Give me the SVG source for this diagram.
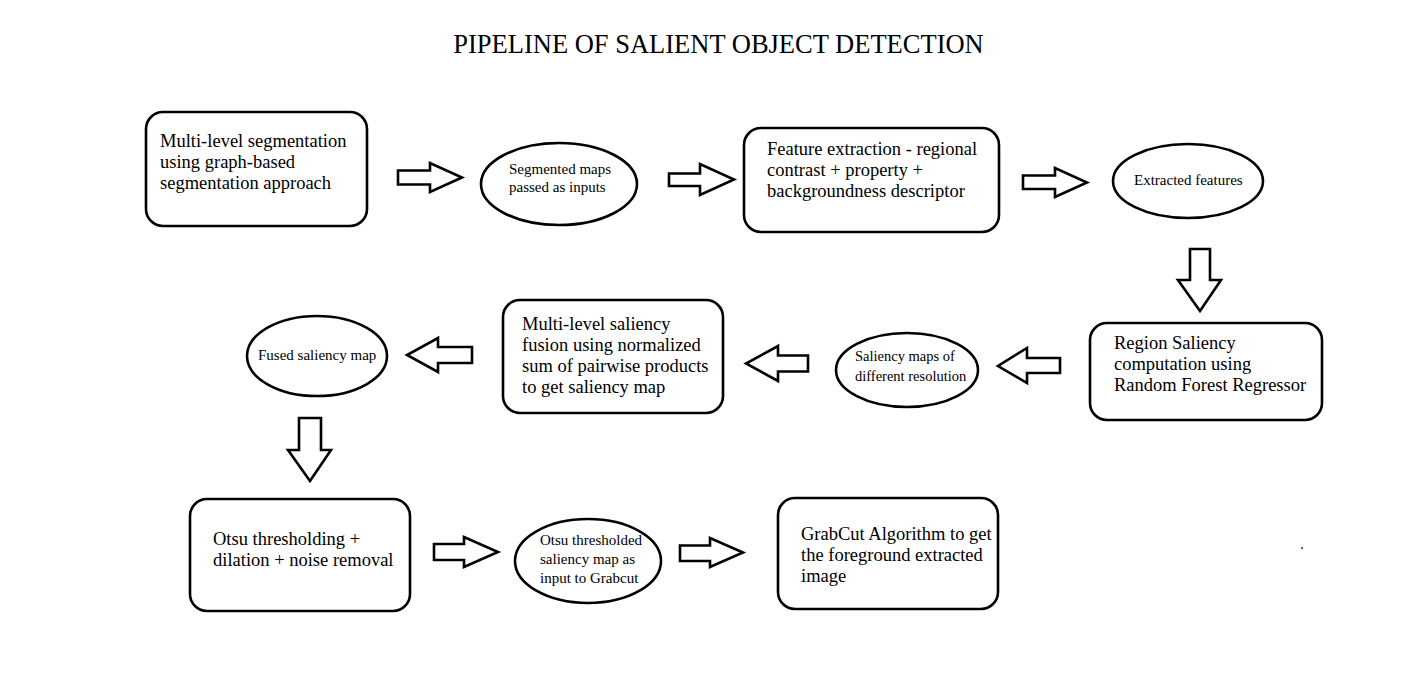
<svg xmlns="http://www.w3.org/2000/svg" width="1415" height="676" viewBox="0 0 1415 676">
<style>
  .box { fill: #fff; stroke: #000; stroke-width: 2.6; }
  .ell { fill: #fff; stroke: #000; stroke-width: 2.6; }
  .arr { fill: #fff; stroke: #000; stroke-width: 2.6; stroke-linejoin: miter; }
  .t { font-family: "Liberation Serif", "Times New Roman", serif; fill: #000; }
  .bt { font-size: 18.5px; }
  .et { font-size: 15px; }
  .title { font-size: 26.5px; }
</style>
<rect width="1415" height="676" fill="#fff"/>
<text class="t title" x="718.5" y="53" text-anchor="middle">PIPELINE OF SALIENT OBJECT DETECTION</text>

<g id="n1">
  <rect class="box" x="146" y="112" width="221" height="114" rx="17"/>
  <text class="t bt" x="160"><tspan x="160" y="147">Multi-level segmentation</tspan><tspan x="160" y="168">using graph-based</tspan><tspan x="160" y="189">segmentation approach</tspan></text>
</g>
<g id="n2">
  <ellipse class="ell" cx="559" cy="184" rx="78" ry="41"/>
  <text class="t et"><tspan x="509" y="174">Segmented maps</tspan><tspan x="509" y="192">passed as inputs</tspan></text>
</g>
<g id="n3">
  <rect class="box" x="744" y="128" width="255" height="104" rx="17"/>
  <text class="t bt"><tspan x="767" y="155">Feature extraction - regional</tspan><tspan x="767" y="176">contrast + property +</tspan><tspan x="767" y="197">backgroundness descriptor</tspan></text>
</g>
<g id="n4">
  <ellipse class="ell" cx="1188" cy="181" rx="75" ry="37"/>
  <text class="t et" x="1134" y="185">Extracted features</text>
</g>
<g id="n5">
  <rect class="box" x="1090" y="323" width="232" height="97" rx="17"/>
  <text class="t bt"><tspan x="1114" y="349">Region Saliency</tspan><tspan x="1114" y="370">computation using</tspan><tspan x="1114" y="391">Random Forest Regressor</tspan></text>
</g>
<g id="n6">
  <ellipse class="ell" cx="907" cy="370" rx="71" ry="37"/>
  <text class="t et" style="font-size:14.5px"><tspan x="855" y="361">Saliency maps of</tspan><tspan x="855" y="381">different resolution</tspan></text>
</g>
<g id="n7">
  <rect class="box" x="503" y="300" width="220" height="113" rx="17"/>
  <text class="t bt"><tspan x="522" y="330">Multi-level saliency</tspan><tspan x="522" y="351">fusion using normalized</tspan><tspan x="522" y="372">sum of pairwise products</tspan><tspan x="522" y="393">to get saliency map</tspan></text>
</g>
<g id="n8">
  <ellipse class="ell" cx="317" cy="356" rx="70" ry="40"/>
  <text class="t et" x="258" y="360">Fused saliency map</text>
</g>
<g id="n9">
  <rect class="box" x="190" y="499" width="220" height="112" rx="17"/>
  <text class="t bt"><tspan x="213" y="545">Otsu thresholding +</tspan><tspan x="213" y="566">dilation + noise removal</tspan></text>
</g>
<g id="n10">
  <ellipse class="ell" cx="588" cy="561" rx="73" ry="42"/>
  <text class="t et"><tspan x="540" y="545">Otsu thresholded</tspan><tspan x="540" y="564">saliency map as</tspan><tspan x="540" y="583">input to Grabcut</tspan></text>
</g>
<g id="n11">
  <rect class="box" x="778" y="498" width="220" height="111" rx="17"/>
  <text class="t bt"><tspan x="801" y="540">GrabCut Algorithm to get</tspan><tspan x="801" y="561">the foreground extracted</tspan><tspan x="801" y="582">image</tspan></text>
</g>

<g id="connectors">
  <polygon class="arr" points="398,170.5 430,170.5 430,163 462,177.5 430,192 430,184.5 398,184.5"/>
  <polygon class="arr" points="669,173.5 700,173.5 700,164 734,179.5 700,195 700,186 669,186"/>
  <polygon class="arr" points="1023,175.5 1055,175.5 1055,168 1087,182.5 1055,197 1055,189 1023,189"/>
  <polygon class="arr" points="1190,249 1210,249 1210,280 1221,280 1200,311 1178,280 1190,280"/>
  <polygon class="arr" points="1060,358 1027,358 1027,348 998,366 1027,383 1027,373 1060,373"/>
  <polygon class="arr" points="808,355.5 778,355.5 778,346 746,363.5 778,381 778,371.5 808,371.5"/>
  <polygon class="arr" points="472,347 438,347 438,338 407,355 438,372 438,363 472,363"/>
  <polygon class="arr" points="299,418 321,418 321,450 331,450 310,481 288,450 299,450"/>
  <polygon class="arr" points="434,544 464,544 464,537 498,552 464,567 464,560 434,560"/>
  <polygon class="arr" points="680,545.5 710,545.5 710,538 743,552.5 710,567 710,561 680,561"/>
</g>
<rect x="1301.5" y="547" width="1.2" height="2.2" fill="#000"/>
</svg>
